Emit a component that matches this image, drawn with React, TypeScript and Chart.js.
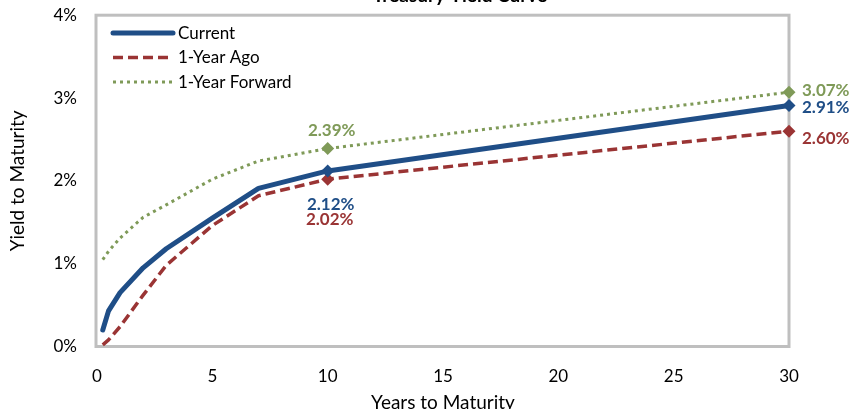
import React, { useEffect, useRef } from 'react';
import { Chart, registerables } from 'chart.js';

Chart.register(...registerables);

// ---- data ----
const maturities = [0.25, 0.5, 1, 2, 3, 5, 7, 10, 30];
const currentYields = [0.2, 0.43, 0.65, 0.95, 1.18, 1.55, 1.91, 2.12, 2.91];
const yearAgoYields = [0.02, 0.08, 0.24, 0.62, 0.98, 1.46, 1.82, 2.02, 2.6];
const forwardYields = [1.05, 1.15, 1.31, 1.56, 1.71, 2.02, 2.24, 2.39, 3.07];
const seriesNames = ['Current', '1-Year Ago', '1-Year Forward'];
const xTickValues = [0, 5, 10, 15, 20, 25, 30];
const yTickValues = [0, 1, 2, 3, 4];
const labelledMaturities = [10, 30];
const chartTitle = 'Treasury Yield Curve';
const xAxisTitle = 'Years to Maturity';
const yAxisTitle = 'Yield to Maturity';

// ---- styles ----
const FONT = 'Lato, "Noto Sans", sans-serif';
const colors = ['#1f4e87', '#9a3434', '#7f9a58'];
const widths = [5, 3.5, 3];
const dashes: number[][] = [[], [10, 5], [3, 4]];
const SHIFT = 15; // canvas is shifted up so the title is cut like the reference
// label placement per series, for each labelled maturity (style only)
const labelPlacement = [
  [{ dx: 3, dy: 39, align: 'center' }, { dx: 13, dy: 7.5, align: 'left' }],
  [{ dx: 2, dy: 46, align: 'center' }, { dx: 13, dy: 13, align: 'left' }],
  [{ dx: 4, dy: -13, align: 'center' }, { dx: 13, dy: 3.5, align: 'left' }],
];

const seriesValues = [currentYields, yearAgoYields, forwardYields];

const framePlugin = {
  id: 'frame',
  beforeDatasetsDraw(chart: any) {
    const { ctx, chartArea: a } = chart;
    ctx.save();
    ctx.strokeStyle = '#bfbfbf';
    ctx.lineWidth = 3;
    ctx.strokeRect(a.left - 1, a.top, a.right - a.left + 1, a.bottom - a.top);
    ctx.restore();
  },
};

const labelsPlugin = {
  id: 'valueLabels',
  afterDatasetsDraw(chart: any) {
    const { ctx } = chart;
    ctx.save();
    ctx.font = `bold 17px ${FONT}`;
    ctx.textBaseline = 'alphabetic';
    chart.data.datasets.forEach((ds: any, i: number) => {
      const meta = chart.getDatasetMeta(i);
      labelledMaturities.forEach((m, k) => {
        const idx = maturities.indexOf(m);
        const pt = meta.data[idx];
        if (!pt) return;
        const p = labelPlacement[i][k];
        ctx.fillStyle = colors[i];
        ctx.textAlign = p.align;
        ctx.fillText(seriesValues[i][idx].toFixed(2) + '%', pt.x + p.dx, pt.y + p.dy);
      });
    });
    ctx.restore();
  },
};

const legendPlugin = {
  id: 'customLegend',
  afterDraw(chart: any) {
    const { ctx, chartArea: a } = chart;
    ctx.save();
    ctx.font = `17px ${FONT}`;
    ctx.textBaseline = 'alphabetic';
    ctx.textAlign = 'left';
    chart.data.datasets.forEach((ds: any, i: number) => {
      const y = a.top + 17.7 + i * 24.5;
      const x0 = a.left + 16;
      const x1 = a.left + 76;
      ctx.beginPath();
      ctx.strokeStyle = colors[i];
      ctx.lineWidth = widths[i];
      ctx.setLineDash(dashes[i]);
      ctx.lineCap = i === 0 ? 'round' : 'butt';
      ctx.moveTo(x0, y);
      ctx.lineTo(x1, y);
      ctx.stroke();
      ctx.setLineDash([]);
      ctx.fillStyle = '#000';
      ctx.fillText(ds.label, a.left + 81, y + 5.8);
    });
    ctx.restore();
  },
};

const titlePlugin = {
  id: 'cutTitle',
  afterDraw(chart: any) {
    const { ctx } = chart;
    ctx.save();
    ctx.font = `bold 19px ${FONT}`;
    ctx.fillStyle = '#000';
    ctx.textAlign = 'center';
    ctx.textBaseline = 'alphabetic';
    ctx.fillText(chartTitle, 460, SHIFT + 1.5);
    ctx.restore();
  },
};

export default function App() {
  const ref = useRef<HTMLCanvasElement | null>(null);

  useEffect(() => {
    if (!ref.current) return;
    const datasets = seriesValues.map((vals, i) => ({
      label: seriesNames[i],
      data: maturities.map((m, j) => ({ x: m, y: vals[j] })),
      borderColor: colors[i],
      backgroundColor: colors[i],
      borderWidth: widths[i],
      borderDash: dashes[i],
      borderCapStyle: i === 0 ? 'round' : 'butt',
      borderJoinStyle: 'round',
      pointStyle: 'rectRot',
      pointRadius: (c: any) => (labelledMaturities.includes(maturities[c.dataIndex]) ? 6.5 : 0),
      pointHoverRadius: 0,
      pointBorderWidth: 0,
      pointBackgroundColor: colors[i],
      fill: false,
      tension: 0,
      clip: false,
    }));

    const chart = new Chart(ref.current, {
      type: 'line',
      data: { datasets } as any,
      options: {
        responsive: false,
        animation: false,
        events: [],
        layout: { padding: { top: 0, right: 66, left: 0, bottom: 0 } },
        plugins: {
          legend: { display: false },
          title: { display: false },
          tooltip: { enabled: false },
        },
        scales: {
          x: {
            type: 'linear',
            min: 0,
            max: 30,
            afterFit: (s: any) => {
              s.height = 73.5;
            },
            afterBuildTicks: (s: any) => {
              s.ticks = xTickValues.map((v) => ({ value: v }));
            },
            grid: { display: false, drawTicks: false },
            border: { display: false },
            ticks: {
              color: '#000',
              font: { family: FONT, size: 17 },
              padding: 20,
              maxRotation: 0,
            },
            title: {
              display: true,
              text: xAxisTitle,
              color: '#000',
              font: { family: FONT, size: 19 },
              padding: { top: 0, bottom: 6 },
            },
          },
          y: {
            type: 'linear',
            min: 0,
            max: 4,
            afterFit: (s: any) => {
              s.width = 97;
            },
            afterBuildTicks: (s: any) => {
              s.ticks = yTickValues.map((v) => ({ value: v }));
            },
            grid: { display: false, drawTicks: false },
            border: { display: false },
            ticks: {
              color: '#000',
              font: { family: FONT, size: 17 },
              padding: 20,
              callback: (v: any) => v + '%',
            },
            title: {
              display: true,
              text: yAxisTitle,
              color: '#000',
              font: { family: FONT, size: 19 },
              padding: { top: 6.5, bottom: 0 },
            },
          },
        },
      } as any,
      plugins: [framePlugin, labelsPlugin, legendPlugin, titlePlugin],
    });
    return () => chart.destroy();
  }, []);

  return (
    <div
      style={{
        position: 'fixed',
        left: 0,
        top: 0,
        width: 855,
        height: 409,
        overflow: 'hidden',
        background: '#fff',
      }}
    >
      <canvas
        ref={ref}
        width={855}
        height={435}
        style={{ display: 'block', position: 'absolute', left: 0, top: -SHIFT, width: 855, height: 435 }}
      />
    </div>
  );
}
